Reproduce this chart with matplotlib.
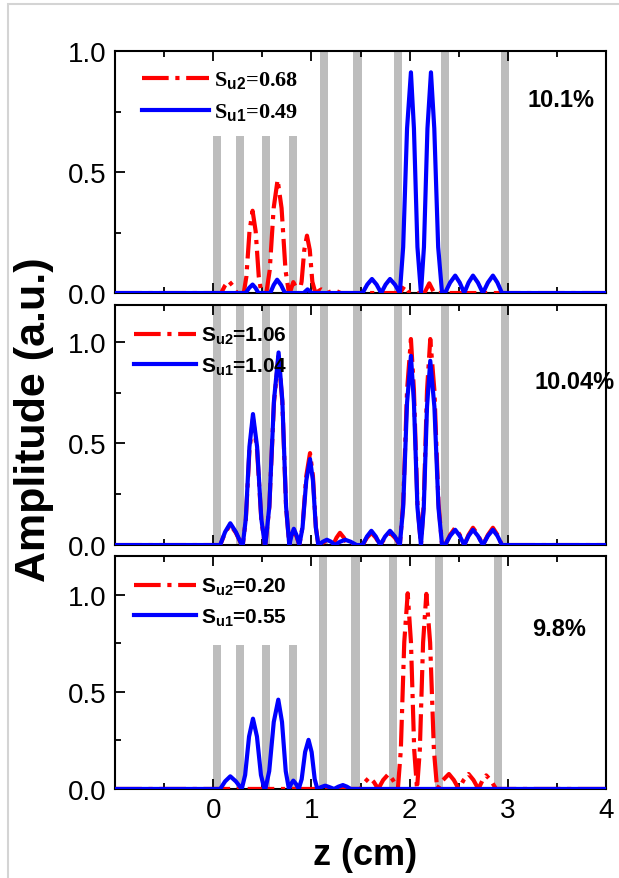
import matplotlib
matplotlib.use("Agg")
import matplotlib.pyplot as plt
import numpy as np
from matplotlib.patches import Rectangle
from matplotlib.ticker import MultipleLocator

plt.rcParams['font.family'] = ['Liberation Sans', 'DejaVu Sans']
plt.rcParams['mathtext.fontset'] = 'custom'
plt.rcParams['mathtext.rm'] = 'Liberation Sans:bold'
plt.rcParams['mathtext.default'] = 'rm'

# grey slit positions (cm)
bars_top = [0.04, 0.27, 0.54, 0.815, 1.125, 1.47, 1.88, 2.36, 2.97]
bars_bottom = [0.04, 0.27, 0.54, 0.81, 1.115, 1.45, 1.83, 2.30, 2.90]
bar_width = 0.085
short_top = 0.65      # the first four bars are shorter in panels 1 and 3
short_bottom = 0.74

# panel labels
percent = ['10.1%', '10.04%', '9.8%']
label_u2 = ['0.68', '1.06', '0.20']
label_u1 = ['0.49', '1.04', '0.55']

# amplitude traces (z, amplitude)
top_u2 = [(-1.0, 0), (0.08, 0), (0.118, 0.03), (0.156, 0.05), (0.198, 0.03), (0.24, 0),
          (0.31, 0), (0.337, 0.068), (0.3685, 0.255), (0.40, 0.34), (0.4315, 0.255), (0.463, 0.068), (0.49, 0),
          (0.54, 0), (0.5745, 0.094), (0.6148, 0.351), (0.655, 0.468), (0.6953, 0.351), (0.7355, 0.094), (0.77, 0),
          (0.78, 0), (0.7975, 0.024), (0.815, 0.045), (0.8375, 0.027), (0.86, 0),
          (0.876, 0), (0.8994, 0.047), (0.9267, 0.178), (0.954, 0.237), (0.9827, 0.178), (1.0086, 0.047), (1.04, 0),
          (1.10, 0.015), (1.16, 0), (1.23, 0.012), (1.30, 0), (1.90, 0), (1.95, 0.03), (2.0, 0),
          (2.15, 0), (2.2, 0.04), (2.25, 0), (4.0, 0)]
top_u1 = [(-1.0, 0), (0.33, 0), (0.365, 0.021), (0.40, 0.035), (0.43, 0.021), (0.46, 0),
          (0.58, 0), (0.615, 0.033), (0.65, 0.055), (0.69, 0.033), (0.73, 0),
          (0.92, 0), (0.96, 0.015), (1.00, 0),
          (1.52, 0), (1.568, 0.035), (1.616, 0.058), (1.663, 0.035), (1.71, 0),
          (1.755, 0.035), (1.80, 0.058), (1.85, 0.035), (1.90, 0),
          (1.934, 0.19), (1.9735, 0.68), (2.013, 0.912), (2.0436, 0.68), (2.0793, 0.19), (2.115, 0),
          (2.1456, 0.19), (2.1813, 0.68), (2.217, 0.912), (2.2509, 0.68), (2.2904, 0.19), (2.33, 0),
          (2.36, 0), (2.412, 0.043), (2.464, 0.072), (2.51, 0.043), (2.556, 0),
          (2.60, 0.043), (2.645, 0.072), (2.695, 0.043), (2.746, 0),
          (2.797, 0.043), (2.848, 0.072), (2.894, 0.043), (2.94, 0), (4.0, 0)]

mid_u2 = [(-1.0, 0), (0.07, 0), (0.12, 0.06), (0.173, 0.10), (0.23, 0.06), (0.29, 0),
          (0.30, 0), (0.331, 0.124), (0.368, 0.465), (0.404, 0.62), (0.446, 0.465), (0.489, 0.124), (0.525, 0),
          (0.53, 0), (0.5705, 0.186), (0.6178, 0.70), (0.665, 0.93), (0.7032, 0.70), (0.7413, 0.186), (0.774, 0),
          (0.797, 0.042), (0.82, 0.07), (0.848, 0.042), (0.876, 0),
          (0.9087, 0.09), (0.9469, 0.339), (0.985, 0.452), (1.0148, 0.339), (1.0445, 0.09), (1.07, 0),
          (1.15, 0.02), (1.22, 0), (1.255, 0.036), (1.29, 0.06), (1.33, 0.036), (1.37, 0), (1.52, 0),
          (1.565, 0.036), (1.61, 0.06), (1.655, 0.036), (1.70, 0),
          (1.75, 0.036), (1.80, 0.06), (1.85, 0.036), (1.90, 0),
          (1.934, 0.203), (1.9735, 0.76), (2.013, 1.013), (2.0436, 0.76), (2.0793, 0.203), (2.115, 0),
          (2.1435, 0.203), (2.1768, 0.76), (2.21, 1.013), (2.252, 0.76), (2.294, 0.203), (2.33, 0),
          (2.36, 0), (2.412, 0.05), (2.464, 0.085), (2.51, 0.05), (2.556, 0),
          (2.60, 0.05), (2.645, 0.085), (2.695, 0.05), (2.746, 0),
          (2.797, 0.05), (2.848, 0.085), (2.894, 0.05), (2.94, 0), (4.0, 0)]
mid_u1 = [(-1.0, 0), (0.07, 0), (0.12, 0.064), (0.173, 0.107), (0.23, 0.064), (0.29, 0),
          (0.30, 0), (0.331, 0.129), (0.368, 0.483), (0.404, 0.644), (0.446, 0.483), (0.489, 0.129), (0.525, 0),
          (0.53, 0), (0.5705, 0.189), (0.6178, 0.71), (0.665, 0.947), (0.7032, 0.71), (0.7413, 0.189), (0.774, 0),
          (0.797, 0.048), (0.82, 0.08), (0.848, 0.048), (0.876, 0),
          (0.9087, 0.085), (0.9469, 0.317), (0.985, 0.423), (1.0148, 0.317), (1.0445, 0.085), (1.07, 0),
          (1.115, 0.016), (1.157, 0.026), (1.20, 0.016), (1.24, 0),
          (1.29, 0.016), (1.344, 0.026), (1.40, 0.016), (1.46, 0), (1.52, 0),
          (1.565, 0.042), (1.61, 0.07), (1.655, 0.042), (1.70, 0),
          (1.75, 0.042), (1.80, 0.07), (1.85, 0.042), (1.90, 0),
          (1.934, 0.186), (1.9735, 0.70), (2.013, 0.93), (2.0436, 0.70), (2.0793, 0.186), (2.115, 0),
          (2.1435, 0.181), (2.1768, 0.68), (2.21, 0.906), (2.252, 0.68), (2.294, 0.181), (2.33, 0),
          (2.36, 0), (2.412, 0.045), (2.464, 0.075), (2.51, 0.045), (2.556, 0),
          (2.60, 0.045), (2.645, 0.075), (2.695, 0.045), (2.746, 0),
          (2.797, 0.045), (2.848, 0.075), (2.894, 0.045), (2.94, 0), (4.0, 0)]

bot_u2 = [(-1.0, 0), (1.50, 0), (1.545, 0.036), (1.59, 0.06), (1.635, 0.036), (1.68, 0),
          (1.73, 0.046), (1.785, 0.077), (1.83, 0.046), (1.88, 0),
          (1.91, 0.20), (1.945, 0.756), (1.98, 1.008), (2.0133, 0.756), (2.0465, 0.20), (2.075, 0),
          (2.1035, 0.20), (2.1368, 0.754), (2.17, 1.005), (2.2085, 0.754), (2.247, 0.20), (2.28, 0),
          (2.34, 0.046), (2.40, 0.077), (2.45, 0.046), (2.50, 0),
          (2.55, 0.046), (2.60, 0.077), (2.65, 0.046), (2.70, 0),
          (2.74, 0.042), (2.78, 0.07), (2.83, 0.042), (2.88, 0), (4.0, 0)]
bot_u1 = [(-1.0, 0), (0.07, 0), (0.12, 0.039), (0.173, 0.065), (0.23, 0.039), (0.29, 0),
          (0.3242, 0.072), (0.3641, 0.27), (0.404, 0.362), (0.4446, 0.27), (0.4852, 0.072), (0.52, 0),
          (0.53, 0), (0.5696, 0.092), (0.6158, 0.345), (0.662, 0.46), (0.6998, 0.345), (0.7376, 0.092), (0.77, 0),
          (0.792, 0.026), (0.815, 0.043), (0.842, 0.026), (0.87, 0),
          (0.90, 0.05), (0.935, 0.19), (0.97, 0.253), (1.0015, 0.19), (1.033, 0.05), (1.06, 0),
          (1.10, 0.01), (1.14, 0.017), (1.18, 0.01), (1.23, 0),
          (1.275, 0.012), (1.32, 0.02), (1.36, 0.012), (1.40, 0), (4.0, 0)]

panels = [(top_u2, top_u1, bars_top, short_top, 1.0),
          (mid_u2, mid_u1, bars_top, None, 1.18),
          (bot_u2, bot_u1, bars_bottom, short_bottom, 1.2)]

# axes rectangles in figure fractions
boxes = [[0.186, 0.6655, 0.793, 0.2753],
         [0.186, 0.3788, 0.793, 0.2730],
         [0.186, 0.1013, 0.793, 0.2650]]
legend_anchor = [(0.015, 1.005), (0.0, 0.995), (0.0, 0.995)]
legend_font = [{'family': 'Liberation Serif', 'weight': 'bold', 'size': 16},
               {'family': 'Liberation Sans', 'weight': 'bold', 'size': 15},
               {'family': 'Liberation Sans', 'weight': 'bold', 'size': 15}]
percent_pos = [(0.908, 0.80), (0.935, 0.68), (0.905, 0.69)]

fig = plt.figure(figsize=(6.19, 8.79), dpi=100)

for i, (u2, u1, bars, short, ytop) in enumerate(panels):
    ax = fig.add_axes(boxes[i])
    for k, b in enumerate(bars):
        top = 1.0
        if short is not None and k < 4:
            top = short / ytop
        ax.axvspan(b - bar_width / 2, b + bar_width / 2, ymin=0, ymax=top,
                   color='#bdbdbd', lw=0, zorder=1)
    z2, a2 = np.array(u2).T
    z1, a1 = np.array(u1).T
    ax.plot(z2, a2, color='#ff0000', ls='-.', lw=3.0, zorder=3,
            label='S$_{u2}$=' + label_u2[i])
    ax.plot(z1, a1, color='#0000ff', ls='-', lw=3.0, zorder=4,
            label='S$_{u1}$=' + label_u1[i])

    ax.set_xlim(-1, 4)
    ax.set_ylim(0, ytop)
    ax.set_yticks([0, 0.5, 1.0])
    ax.set_yticklabels(['0.0', '0.5', '1.0'])
    ax.yaxis.set_minor_locator(MultipleLocator(0.25))
    ax.set_xticks([0, 1, 2, 3, 4])
    ax.xaxis.set_minor_locator(MultipleLocator(0.5))
    ax.tick_params(which='both', direction='in', top=True, right=False, width=1.3)
    ax.tick_params(which='major', length=7, labelsize=20, pad=6)
    ax.tick_params(which='minor', length=4)
    if i < 2:
        ax.tick_params(labelbottom=False)
    for s in ax.spines.values():
        s.set_linewidth(1.5)

    ax.legend(loc='upper left', bbox_to_anchor=legend_anchor[i], frameon=False,
              handlelength=3.0, handletextpad=0.2, labelspacing=0.45,
              prop=legend_font[i])
    ax.text(percent_pos[i][0], percent_pos[i][1], percent[i], transform=ax.transAxes,
            ha='center', va='center', fontsize=17, fontweight='bold')

fig.text(0.055, 0.522, 'Amplitude (a.u.)', rotation=90, ha='center', va='center',
         fontsize=31, fontweight='bold')
fig.text(0.59, 0.027, 'z (cm)', ha='center', va='center', fontsize=26, fontweight='bold')

# light frame around the picture
fig.patches.append(Rectangle((8 / 619, -0.01), 1.0, 1 - 5 / 879 + 0.01, transform=fig.transFigure,
                             fill=False, edgecolor='#d4d4d4', lw=1.5))

fig.savefig('out.png', dpi=100)
